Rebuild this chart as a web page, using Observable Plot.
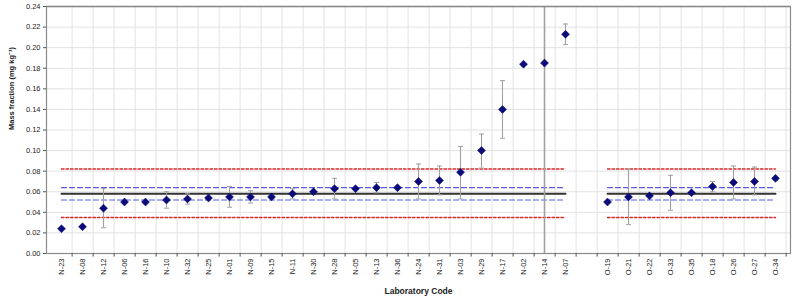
<!DOCTYPE html>
<html>
<head>
<meta charset="utf-8">
<script src="https://cdn.jsdelivr.net/npm/d3@7"></script>
<script src="https://cdn.jsdelivr.net/npm/@observablehq/plot@0.6"></script>
<style>
  html, body { margin: 0; padding: 0; background: #fff; }
  svg { display: block; }
</style>
</head>
<body>
<div id="chart"></div>
<script>
// Categories (with one empty slot between the N and O groups)
const groupN = ["N-23","N-08","N-12","N-06","N-16","N-10","N-32","N-25","N-01","N-09","N-15","N-11","N-30","N-28","N-05","N-13","N-36","N-24","N-31","N-03","N-29","N-17","N-02","N-14","N-07"];
const groupO = ["O-19","O-21","O-22","O-33","O-35","O-18","O-26","O-27","O-34"];
const gapSlot = " ";

// Mass fraction values (mg/kg)
const valuesN = [0.024,0.026,0.044,0.050,0.050,0.052,0.053,0.054,0.055,0.055,0.055,0.058,0.060,0.063,0.063,0.064,0.064,0.070,0.071,0.079,0.100,0.140,0.184,0.185,0.213];
const valuesO = [0.050,0.055,0.056,0.059,0.059,0.065,0.069,0.070,0.073];

// Uncertainty bars (low, high); null = none shown
const lowN  = [null,null,0.025,null,null,0.044,0.048,null,0.045,0.049,null,0.053,null,0.053,null,0.059,null,0.053,0.057,0.053,0.083,0.112,null,0.000,0.203];
const highN = [null,null,0.063,null,null,0.060,0.058,null,0.065,0.061,null,0.063,null,0.073,null,0.069,null,0.087,0.085,0.104,0.116,0.168,null,0.240,0.223];
const lowO  = [null,0.028,null,0.042,null,0.060,0.053,0.057,null];
const highO = [null,0.082,null,0.076,null,0.070,0.085,0.084,null];

// Reference levels
const assignedValue = 0.058;
const innerBand = [0.052, 0.064];
const outerBand = [0.035, 0.082];

const yTicks = [0,0.02,0.04,0.06,0.08,0.10,0.12,0.14,0.16,0.18,0.20,0.22,0.24];

const domain = [...groupN, gapSlot, ...groupO];
const points = [
  ...groupN.map((c,i) => ({code:c, v:valuesN[i], lo:lowN[i], hi:highN[i]})),
  ...groupO.map((c,i) => ({code:c, v:valuesO[i], lo:lowO[i], hi:highO[i]}))
];
const bars = points.filter(d => d.lo != null);
const capped = bars.filter(d => d.code !== "N-14");

function segs(level) {
  return [
    {code: groupN[0], y: level, g: "N"}, {code: groupN[groupN.length-1], y: level, g: "N"},
    {code: groupO[0], y: level, g: "O"}, {code: groupO[groupO.length-1], y: level, g: "O"}
  ];
}

// horizontal cap symbol for error bars
const capSymbol = {draw(context) { context.moveTo(-2.5, 0); context.lineTo(2.5, 0); }};

const W = 793, H = 299, ML = 46, MR = 3, MT = 6, MB = 46;
const step = (W - ML - MR) / domain.length;
const font = "Liberation Sans, Arial, sans-serif";

const chart = Plot.plot({
  width: W, height: H,
  marginLeft: ML, marginRight: MR, marginTop: MT, marginBottom: MB,
  style: {fontFamily: font, fontSize: "7.5px", color: "#222", background: "#fff"},
  x: {type: "point", domain, padding: 0.5, axis: null},
  y: {domain: [0, 0.24], axis: null},
  marks: [
    Plot.gridY(yTicks, {stroke: "#e2e2e2", strokeOpacity: 1}),
    Plot.ruleX(domain, {x: d => d, dx: step/2, stroke: "#e2e2e2", strokeOpacity: 1}),
    // outer (red dotted) limits
    ...outerBand.map(l => Plot.line(segs(l), {x: "code", y: "y", z: "g", stroke: "#d42a2a", strokeWidth: 1.5, strokeDasharray: "2.5,2"})),
    // inner (blue dashed) limits
    ...innerBand.map(l => Plot.line(segs(l), {x: "code", y: "y", z: "g", stroke: "#5a5ae6", strokeWidth: 1.2, strokeDasharray: "5,3"})),
    // assigned value
    Plot.line(segs(assignedValue), {x: "code", y: "y", z: "g", stroke: "#333", strokeWidth: 2}),
    // error bars
    Plot.ruleX(bars, {x: "code", y1: "lo", y2: "hi", stroke: "#a0a0a0", strokeWidth: d => d.code === "N-14" ? 1.6 : 1.1}),
    Plot.dot(capped, {x: "code", y: "lo", symbol: capSymbol, fill: "none", stroke: "#a0a0a0", strokeWidth: 1}),
    Plot.dot(capped, {x: "code", y: "hi", symbol: capSymbol, fill: "none", stroke: "#a0a0a0", strokeWidth: 1}),
    // results
    Plot.dot(points, {x: "code", y: "v", symbol: "diamond2", r: 3.6, fill: "#0a0a78", stroke: "#0a0a78", strokeWidth: 0.5}),
    // frame
    Plot.frame({stroke: "#8a8a8a", strokeWidth: 1.2}),
    Plot.ruleY([0.24], {stroke: "#8a8a8a", strokeWidth: 1.6}),
    // y axis
    Plot.axisY(yTicks, {tickFormat: d3.format(".2f"), tickSize: 3, tickPadding: 3, stroke: "#555", fontSize: 7.5, label: null}),
    // x tick marks at category boundaries
    Plot.ruleX(domain, {x: d => d, dx: step/2, y1: 0, y2: -0.0035, stroke: "#555"}),
    Plot.axisX([...groupN, ...groupO], {tickSize: 0, tickPadding: 5, tickRotate: -90, fontSize: 7.5, label: null}),
    // titles
    Plot.text(["Laboratory Code"], {frameAnchor: "bottom", dy: 40, fontWeight: "bold", fontSize: 8.5, fill: "#222"}),
    Plot.text(["Mass fraction (mg kg\u207B\u00B9)"], {frameAnchor: "left", dx: -35, rotate: -90, fontWeight: "bold", fontSize: 7.5, fill: "#222"})
  ]
});
document.getElementById("chart").appendChild(chart);
</script>
</body>
</html>
